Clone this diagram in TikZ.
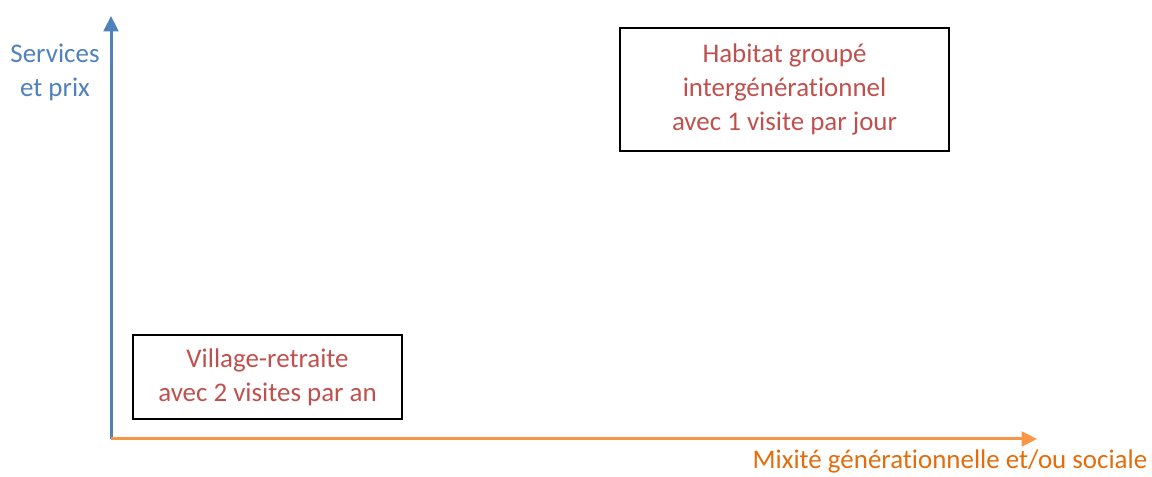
\documentclass[tikz,border=0pt]{standalone}
\usepackage{fontspec}
\setmainfont{Carlito}[Ligatures={NoCommon}]
\usepackage{xcolor}
\usepackage{tikz}
\usetikzlibrary{arrows.meta,positioning}

\definecolor{axeBleu}{HTML}{4F81BD}
\definecolor{axeOrange}{HTML}{F79646}
\definecolor{texteOrange}{HTML}{E46C0A}
\definecolor{texteRouge}{HTML}{C0504D}

\begin{document}
\begin{tikzpicture}[x=0.75pt, y=0.75pt,
	grand/.style={font=\fontsize{20.2}{25.5}\selectfont, align=center},
	boite/.style={grand, draw, rectangle, line width=1.5pt, text=texteRouge},
	axe/.style={line width=2.25pt, -{Triangle[width=11pt, length=11.5pt]}}]
	\useasboundingbox (0,0) rectangle (1152,477);
	
	% Axes
	\coordinate (origine) at (111,38);
	\coordinate (haut) at (111,461);
	\coordinate (droite) at (1037,38);
	\draw[axe, axeBleu] (origine) -- (haut);
	\draw[axe, axeOrange] (origine) -- (droite);
	
	% Etiquettes des axes
	\node[grand, text=axeBleu] (services) at (55,405) {Services\\et prix};
	\node[grand, text=texteOrange, anchor=base east] (mixite) at (1152,8) {Mixit\'e g\'en\'erationnelle et/ou sociale};
	
	% Exemples
	\node[boite, minimum width=247pt, minimum height=92pt] (habitat) at (784.5,387.5)
		{Habitat group\'e\\interg\'en\'erationnel\\avec 1 visite par jour};
	\node[boite, minimum width=202pt, minimum height=63pt] (village) at (267.5,100)
		{Village-retraite\\avec 2 visites par an};
\end{tikzpicture}
\end{document}
